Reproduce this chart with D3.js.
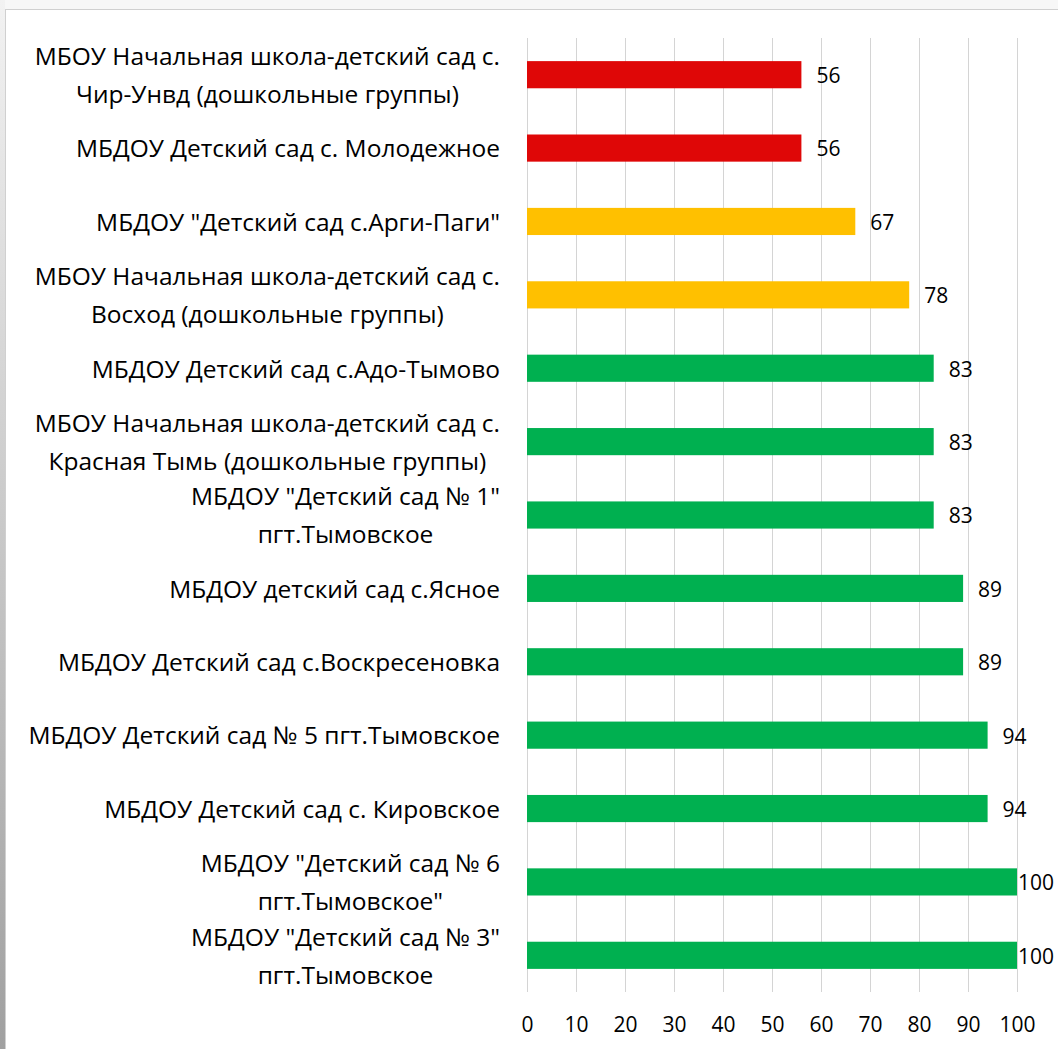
<!DOCTYPE html>
<html>
<head>
<meta charset="utf-8">
<script src="https://cdn.jsdelivr.net/npm/d3@7"></script>
<style>
  html, body { margin: 0; padding: 0; background: #f7f7f7; }
  svg { display: block; font-family: "Open Sans", sans-serif; }
</style>
</head>
<body>
<div class="container"></div>
<script>
// categories, top to bottom (\n marks a wrapped line)
const categories = [
    "МБОУ Начальная школа-детский сад с.\nЧир-Унвд (дошкольные группы)",
    "МБДОУ Детский сад с. Молодежное",
    "МБДОУ \"Детский сад с.Арги-Паги\"",
    "МБОУ Начальная школа-детский сад с.\nВосход (дошкольные группы)",
    "МБДОУ Детский сад с.Адо-Тымово",
    "МБОУ Начальная школа-детский сад с.\nКрасная Тымь (дошкольные группы)",
    "МБДОУ \"Детский сад № 1\"\nпгт.Тымовское",
    "МБДОУ детский сад с.Ясное",
    "МБДОУ Детский сад с.Воскресеновка",
    "МБДОУ Детский сад № 5 пгт.Тымовское",
    "МБДОУ Детский сад с. Кировское",
    "МБДОУ \"Детский сад № 6\nпгт.Тымовское\"",
    "МБДОУ \"Детский сад № 3\"\nпгт.Тымовское"
]
const values = [56, 56, 67, 78, 83, 83, 83, 89, 89, 94, 94, 100, 100]
const xTicks = [0, 10, 20, 30, 40, 50, 60, 70, 80, 90, 100]

const w = 1058
const h = 1049
const plotLeft = 527
const plotRight = 1017
const plotTop = 38
const plotBottom = 992

const dataset = categories.map((c, i) => ({ name: c, value: values[i] }))

const xScale = d3.scaleLinear()
                 .domain([0, 100])
                 .range([plotLeft, plotRight])
const yScale = d3.scaleBand()
                 .domain(categories)
                 .range([plotTop, plotBottom])
                 .paddingInner(0.63)
                 .paddingOuter(0.315)
const colour = d3.scaleThreshold()
                 .domain([60, 80])
                 .range(["#df0707", "#ffc000", "#00b050"])

const svg = d3.select(".container")
              .append("svg")
              .attr("width", w)
              .attr("height", h)

// frame
const grad = svg.append("defs")
                .append("linearGradient")
                .attr("id", "edge")
                .attr("x1", 0).attr("y1", 0).attr("x2", 0).attr("y2", 1)
grad.append("stop").attr("offset", "0%").attr("stop-color", "#f2f2f2")
grad.append("stop").attr("offset", "100%").attr("stop-color", "#a0a0a0")
svg.append("rect")
   .attr("x", 0).attr("y", 0).attr("width", 5).attr("height", h)
   .style("fill", "url(#edge)")
svg.append("rect")
   .attr("x", 5.5).attr("y", 9.5).attr("width", w).attr("height", h)
   .style("fill", "#ffffff")
   .style("stroke", "#d0d0d0")

// gridlines + tick labels
const xAxis = d3.axisBottom(xScale)
                .tickValues(xTicks)
                .tickSize(-(plotBottom - plotTop))
                .tickPadding(25)
const gx = svg.append("g")
              .attr("id", "x-axis")
              .attr("transform", `translate(0, ${plotBottom})`)
              .call(xAxis)
gx.select(".domain").remove()
gx.selectAll("line").style("stroke", "#d4d4d4")
gx.selectAll("text")
  .style("font-size", "21px")
  .style("font-family", "Open Sans")
  .style("fill", "#000")

// bars
svg.selectAll("rect.bar")
   .data(dataset)
   .enter()
   .append("rect")
   .attr("class", "bar")
   .attr("x", xScale(0))
   .attr("y", (d) => yScale(d.name))
   .attr("width", (d) => xScale(d.value) - xScale(0))
   .attr("height", yScale.bandwidth())
   .style("fill", (d) => colour(d.value))

// value labels (pulled back inside the chart when they would overflow)
svg.selectAll("text.value")
   .data(dataset)
   .enter()
   .append("text")
   .attr("class", "value")
   .attr("y", (d) => yScale(d.name) + yScale.bandwidth() / 2)
   .attr("dy", "0.4em")
   .style("font-size", "21px")
   .text((d) => d.value)
   .attr("x", function (d) {
       const tw = this.getComputedTextLength()
       return Math.min(xScale(d.value) + 15, w - 4 - tw)
   })

// category labels: block right-aligned, lines centred inside the block
const labelRight = 500
const lineGap = 38
dataset.forEach((d) => {
    const lines = d.name.split("\n")
    const cy = yScale(d.name) + yScale.bandwidth() / 2
    const g = svg.append("g").attr("class", "cat")
    const texts = lines.map((t, i) => g.append("text")
        .attr("y", cy + (i - (lines.length - 1) / 2) * lineGap)
        .attr("dy", "0.38em")
        .style("font-size", "24.5px")
        .text(t))
    const maxW = d3.max(texts, (t) => t.node().getComputedTextLength())
    texts.forEach((t) => t.attr("x", labelRight - maxW / 2).attr("text-anchor", "middle"))
})
</script>
</body>
</html>
